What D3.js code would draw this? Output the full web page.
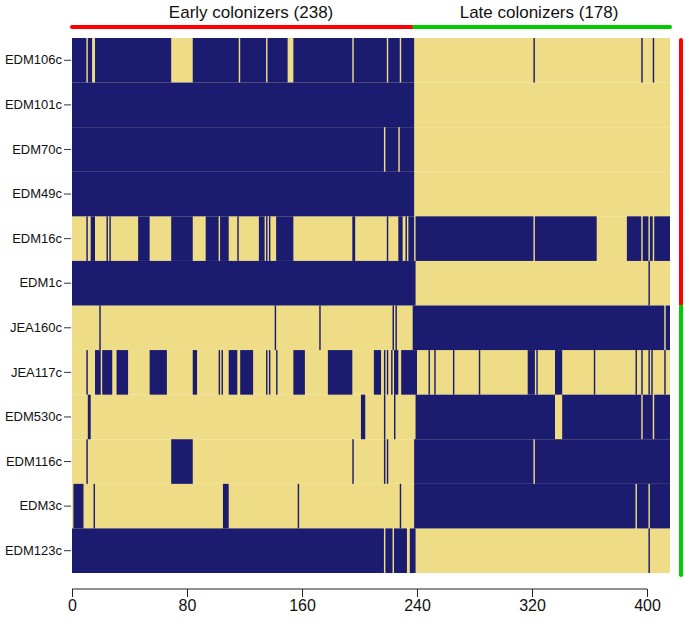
<!DOCTYPE html>
<html>
<head>
<meta charset="utf-8">
<script src="https://cdn.jsdelivr.net/npm/d3@7"></script>
<style>
  html, body { margin: 0; padding: 0; background: #ffffff; }
  svg { display: block; font-family: "Liberation Sans", Arial, Helvetica, sans-serif; }
</style>
</head>
<body>
<svg id="chart" width="685" height="627"></svg>
<script>
// ---------------- DATA ----------------
const strains = ["EDM106c","EDM101c","EDM70c","EDM49c","EDM16c","EDM1c",
                 "JEA160c","JEA117c","EDM530c","EDM116c","EDM3c","EDM123c"];
const nIsolates = 416;
const groupNames = ["Early colonizers (238)", "Late colonizers (178)"];
const groupStarts = [0, 238];
const groupEnds = [238, 416];
const strainGroupSplit = 6;            // first 6 strains -> early marker, rest -> late marker
const xTicks = [0, 80, 160, 240, 320, 400];

// navy (presence) runs per strain, [firstIsolate, lastIsolate] inclusive; rest is khaki
const navyEDM106c = [[0,9],[11,13],[16,68],[84,115],[117,134],[136,149],[154,194],[196,218],[220,227],[229,237],[321,321],[396,396],[404,404]];
const navyEDM101c = [[0,237]];
const navyEDM70c  = [[0,216],[218,226],[228,237]];
const navyEDM49c  = [[0,237]];
const navyEDM16c  = [[10,10],[13,15],[24,24],[26,26],[46,53],[69,83],[93,101],[103,108],[115,115],[130,133],[135,135],[137,137],[142,153],[195,196],[219,219],[227,229],[232,232],[234,237],[239,320],[322,364],[386,395],[397,400],[402,403],[405,415]];
const navyEDM1c   = [[0,238],[401,401]];
const navyJEA160c = [[19,19],[141,141],[172,172],[223,223],[225,225],[237,411],[413,415]];
const navyJEA117c = [[10,10],[16,19],[21,27],[31,38],[54,65],[84,86],[102,102],[104,104],[109,114],[117,125],[135,135],[137,137],[142,142],[154,161],[178,194],[210,214],[217,217],[219,219],[222,222],[224,226],[229,239],[248,248],[252,252],[265,265],[283,283],[317,321],[323,323],[336,340],[363,363],[392,392],[396,396],[401,401],[403,403],[412,412]];
const navyEDM530c = [[11,12],[201,203],[217,217],[224,224],[239,335],[341,395],[397,403],[405,415]];
const navyEDM116c = [[10,10],[69,83],[195,195],[217,217],[219,219],[238,320],[322,415]];
const navyEDM3c   = [[1,7],[15,15],[105,108],[157,157],[228,228],[238,391],[393,400],[402,415]];
const navyEDM123c = [[0,216],[218,222],[224,232],[235,238],[401,401]];
const navyRuns = [navyEDM106c, navyEDM101c, navyEDM70c, navyEDM49c, navyEDM16c, navyEDM1c,
                  navyJEA160c, navyJEA117c, navyEDM530c, navyEDM116c, navyEDM3c, navyEDM123c];

// ---------------- STYLE ----------------
const NAVY = "#1b1b6f";
const KHAKI = "#eedd86";
const RED = "#ff0000";
const GREEN = "#00cc00";

const svg = d3.select("#chart");
const x = d3.scaleLinear().domain([0, nIsolates]).range([72, 670]);
const y = d3.scaleBand().domain(strains).range([38, 573]).paddingInner(0).paddingOuter(0);

// heatmap background (absence)
const gHeat = svg.append("g");
gHeat.selectAll("rect.bg").data(strains).join("rect")
  .attr("class", "bg")
  .attr("x", x(0)).attr("width", x(nIsolates) - x(0))
  .attr("y", d => y(d)).attr("height", y.bandwidth())
  .attr("fill", KHAKI);

// presence runs
const runData = [];
strains.forEach((s, i) => navyRuns[i].forEach(r => runData.push({s, a: r[0], b: r[1]})));
gHeat.selectAll("rect.run").data(runData).join("rect")
  .attr("class", "run")
  .attr("x", d => x(d.a)).attr("width", d => x(d.b + 1) - x(d.a))
  .attr("y", d => y(d.s)).attr("height", y.bandwidth())
  .attr("fill", NAVY);

// left axis (strain names)
const yAxis = svg.append("g").attr("transform", `translate(${x(0) - 1},0)`)
  .call(d3.axisLeft(y).tickSize(7).tickPadding(2));
yAxis.select(".domain").remove();
yAxis.selectAll(".tick line").attr("stroke", "#333");
yAxis.selectAll("text").attr("font-size", 13).attr("fill", "#111")
  .attr("font-family", "'Liberation Sans', Arial, sans-serif");

// bottom axis
const xAxisY = 589;
const xAxis = svg.append("g").attr("transform", `translate(0,${xAxisY})`)
  .call(d3.axisBottom(x).tickValues(xTicks).tickSize(8).tickPadding(3).tickSizeOuter(0));
xAxis.select(".domain").remove();
xAxis.append("line")
  .attr("x1", x(xTicks[0])).attr("x2", x(xTicks[xTicks.length - 1]))
  .attr("stroke", "#222").attr("stroke-width", 1);
xAxis.selectAll(".tick line").attr("stroke", "#222");
xAxis.selectAll("text").attr("font-size", 16).attr("fill", "#111")
  .attr("font-family", "'Liberation Sans', Arial, sans-serif");

// top group bars and labels
const groupColors = [RED, GREEN];
const topY = 27;
groupNames.forEach((name, i) => {
  svg.append("line")
    .attr("x1", x(groupStarts[i])).attr("x2", x(groupEnds[i]))
    .attr("y1", topY).attr("y2", topY)
    .attr("stroke", groupColors[i]).attr("stroke-width", 4).attr("stroke-linecap", "round");
});
svg.selectAll("text.grp").data(groupNames).join("text")
  .attr("class", "grp")
  .attr("x", (d, i) => x((groupStarts[i] + groupEnds[i]) / 2) + (i === 0 ? 8 : -3))
  .attr("y", 18)
  .attr("text-anchor", "middle")
  .attr("font-size", 17)
  .attr("fill", "#111")
  .text(d => d);

// right strain-group bars
const rightX = 681;
const earlyStrains = strains.slice(0, strainGroupSplit);
const lateStrains = strains.slice(strainGroupSplit);
svg.append("line")
  .attr("x1", rightX).attr("x2", rightX)
  .attr("y1", y(earlyStrains[0]) + 2)
  .attr("y2", y(earlyStrains[earlyStrains.length - 1]) + y.bandwidth() - 1)
  .attr("stroke", RED).attr("stroke-width", 4).attr("stroke-linecap", "round");
svg.append("line")
  .attr("x1", rightX).attr("x2", rightX)
  .attr("y1", y(lateStrains[0]) + 1)
  .attr("y2", y(lateStrains[lateStrains.length - 1]) + y.bandwidth() + 2)
  .attr("stroke", GREEN).attr("stroke-width", 4).attr("stroke-linecap", "round");
</script>
</body>
</html>
